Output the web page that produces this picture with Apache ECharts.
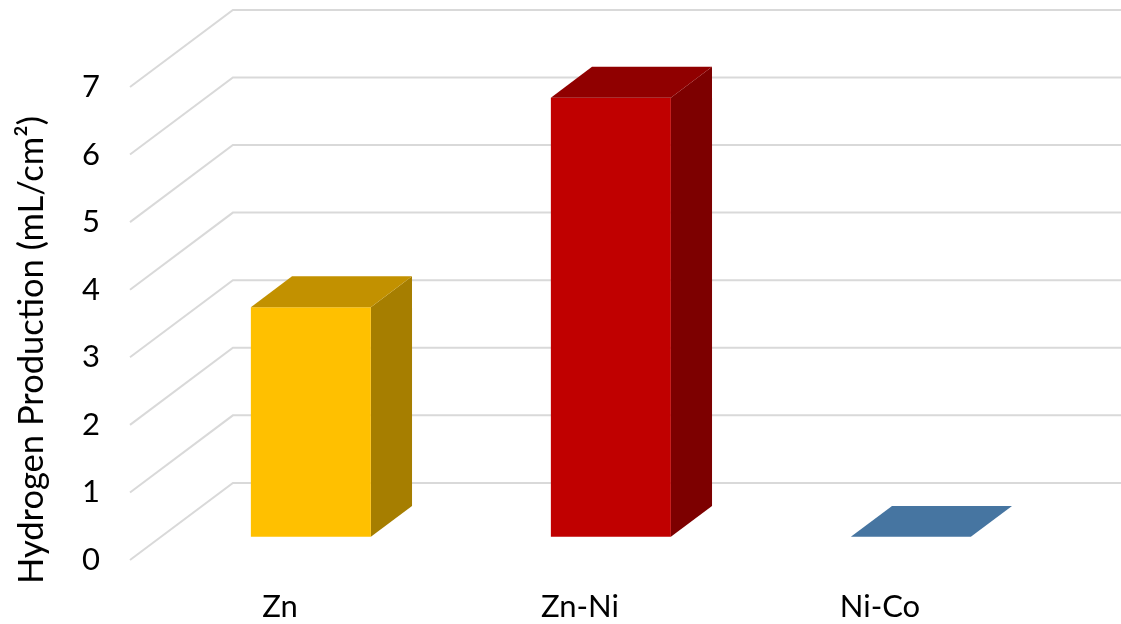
<!DOCTYPE html>
<html>
<head>
<meta charset="utf-8">
<style>
  html, body { margin: 0; padding: 0; background: #ffffff; }
  #chart { width: 1121px; height: 624px; }
</style>
<script src="https://cdn.jsdelivr.net/npm/echarts@6/dist/echarts.min.js"></script>
</head>
<body>
<div id="chart"></div>
<script>
// Categories and measured values (mL/cm²)
const categories = ['Zn', 'Zn-Ni', 'Ni-Co'];
const production = [3.4, 6.5, 0];
const yTicks = [0, 1, 2, 3, 4, 5, 6, 7];
const yAxisTitle = 'Hydrogen Production (mL/cm²)';

// Face shading for each bar: front, top, side
const barShades = [
  { front: '#FFC000', top: '#C29100', side: '#A67E00' },
  { front: '#C00000', top: '#900000', side: '#7D0000' },
  { front: '#4F81BD', top: '#4675A1', side: '#3B6390' }
];

// Oblique depth of the plot box, as a fraction of one category band
const DEPTH_X = 0.343;
const DEPTH_Y = 0.257;
// Bars sit between these depth fractions and take this share of the band
const BAR_NEAR = 0.3, BAR_FAR = 0.7, BAR_SHARE = 0.4;

const FONT = 'Lato, "Open Sans", sans-serif';

const chart = echarts.init(document.getElementById('chart'), null, { renderer: 'canvas' });

// Gridline for one tick: up the left wall, then across the back wall
function renderGrid(params, api) {
  const cs = params.coordSys;
  const band = api.size([1, 0])[0];
  const dx = DEPTH_X * band, dy = DEPTH_Y * band;
  const y = api.coord([0, api.value(1)])[1];
  return {
    type: 'polyline',
    shape: { points: [[cs.x, y], [cs.x + dx, y - dy], [api.getWidth(), y - dy]] },
    style: { stroke: '#D9D9D9', lineWidth: 2, fill: null },
    silent: true
  };
}

// Oblique box bar: side, front and top faces
function renderBar(params, api) {
  const idx = api.value(0);
  const val = api.value(1);
  const shade = barShades[params.dataIndex];
  const base = api.coord([idx, 0]);
  const top = api.coord([idx, val]);
  const band = api.size([1, 0])[0];
  const dx = DEPTH_X * band, dy = DEPTH_Y * band;
  const half = BAR_SHARE * band / 2;

  const xf0 = base[0] - half + BAR_NEAR * dx, xf1 = base[0] + half + BAR_NEAR * dx;
  const xb0 = base[0] - half + BAR_FAR * dx, xb1 = base[0] + half + BAR_FAR * dx;
  const ybf = base[1] - BAR_NEAR * dy, ytf = top[1] - BAR_NEAR * dy;
  const ybb = base[1] - BAR_FAR * dy, ytb = top[1] - BAR_FAR * dy;

  const children = [];
  if (ybf - ytf > 0.5) {
    children.push({
      type: 'polygon',
      shape: { points: [[xf1, ytf], [xb1, ytb], [xb1, ybb], [xf1, ybf]] },
      style: { fill: shade.side }
    });
    children.push({
      type: 'rect',
      shape: { x: xf0, y: ytf, width: xf1 - xf0, height: ybf - ytf },
      style: { fill: shade.front }
    });
  }
  children.push({
    type: 'polygon',
    shape: { points: [[xf0, ytf], [xf1, ytf], [xb1, ytb], [xb0, ytb]] },
    style: { fill: shade.top }
  });
  return { type: 'group', children: children };
}

const option = {
  backgroundColor: '#ffffff',
  animation: false,
  grid: { left: 130, right: 91, top: 87, bottom: 64, containLabel: false },
  xAxis: {
    type: 'category',
    data: categories,
    axisLine: { show: false },
    axisTick: { show: false },
    splitLine: { show: false },
    axisLabel: { color: '#000000', fontFamily: FONT, fontSize: 31, margin: 31 }
  },
  yAxis: {
    type: 'value',
    min: 0, max: 7, interval: 1,
    axisLine: { show: false },
    axisTick: { show: false },
    splitLine: { show: false },
    axisLabel: { color: '#000000', fontFamily: FONT, fontSize: 31, margin: 30 }
  },
  graphic: [{
    type: 'text',
    x: 32, y: 350,
    rotation: Math.PI / 2,
    style: {
      text: yAxisTitle,
      fill: '#000000',
      font: '34.5px ' + FONT,
      textAlign: 'center',
      textVerticalAlign: 'middle'
    }
  }],
  series: [
    {
      type: 'custom',
      name: 'grid',
      renderItem: renderGrid,
      data: yTicks.map(function (v) { return [0, v]; }),
      encode: { x: 0, y: 1 },
      z: 1,
      silent: true
    },
    {
      type: 'custom',
      name: 'Hydrogen Production',
      renderItem: renderBar,
      data: production.map(function (v, i) { return [i, v]; }),
      encode: { x: 0, y: 1 },
      z: 2
    }
  ]
};

chart.setOption(option);
</script>
</body>
</html>
